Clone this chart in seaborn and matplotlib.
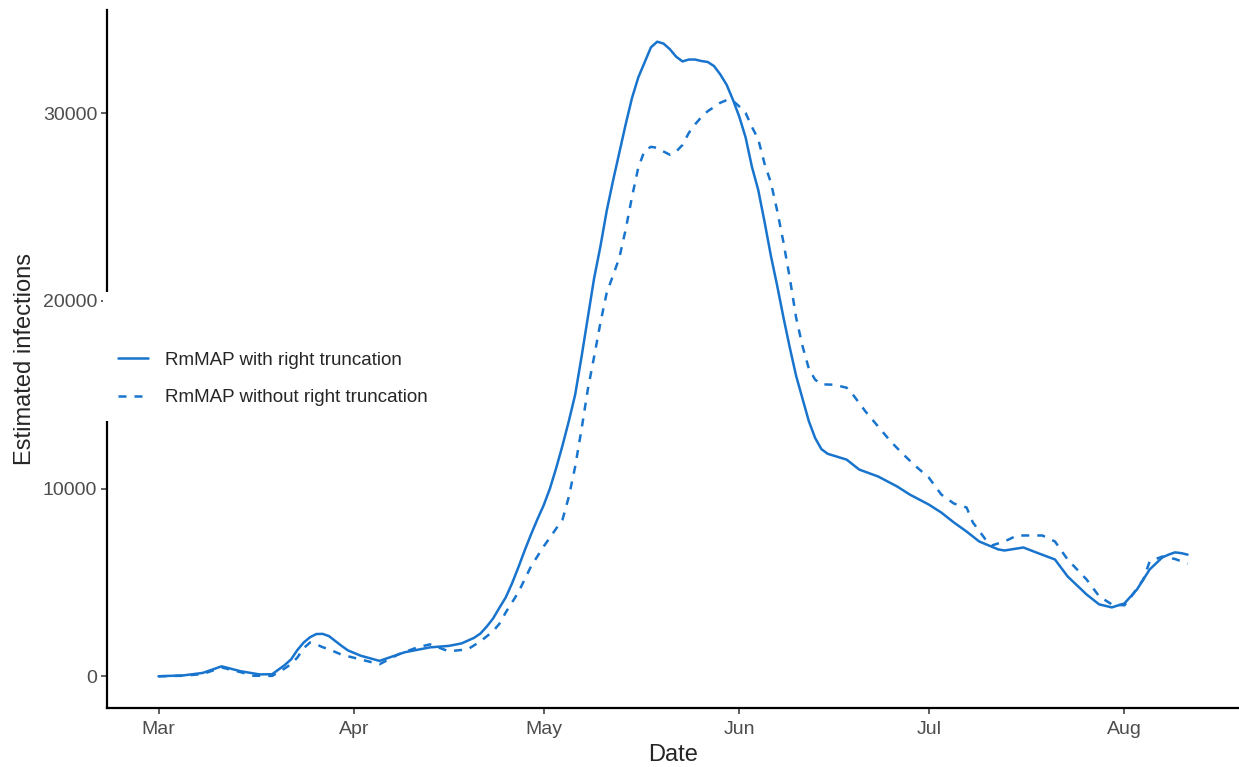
import numpy as np
import pandas as pd
import seaborn as sns
import matplotlib.pyplot as plt
import matplotlib.dates as mdates

# Estimated infections (year assumed 2020)
with_dates = ["03-01", "03-05", "03-08", "03-11", "03-14", "03-17", "03-19", "03-21",
              "03-22", "03-23", "03-24", "03-25", "03-26", "03-27", "03-28", "03-29",
              "03-30", "03-31", "04-02", "04-05", "04-09", "04-13", "04-16", "04-18",
              "04-20", "04-21", "04-22", "04-23", "04-24", "04-25", "04-26", "04-27",
              "04-28", "04-29", "04-30", "05-01",
              "05-02", "05-03", "05-04", "05-05", "05-06", "05-07", "05-08", "05-09",
              "05-10", "05-11", "05-12", "05-13", "05-14", "05-15", "05-16", "05-17",
              "05-18", "05-19", "05-20", "05-21", "05-22", "05-23", "05-24", "05-25",
              "05-26", "05-27", "05-28", "05-29", "05-30", "05-31", "06-01", "06-02",
              "06-03", "06-04", "06-05", "06-06", "06-07", "06-08", "06-09", "06-10",
              "06-11", "06-12", "06-13", "06-14", "06-15", "06-18", "06-20", "06-23",
              "06-26", "06-28", "07-01", "07-03", "07-05", "07-07", "07-09", "07-12",
              "07-13", "07-16", "07-18", "07-21", "07-23", "07-26", "07-28", "07-30",
              "08-01", "08-03", "08-05", "08-07", "08-08", "08-09", "08-10", "08-11"]
with_values = [0, 50, 180, 530, 270, 100, 110, 600,
               900, 1400, 1800, 2080, 2250, 2260, 2140, 1880,
               1620, 1380, 1100, 820, 1280, 1540, 1620, 1750,
               2050, 2280, 2650, 3080, 3650, 4200, 4950, 5800,
               6700, 7550, 8350, 9100,
               10000, 11100, 12300, 13600, 15000, 17000, 19100, 21200,
               22900, 24800, 26400, 27900, 29400, 30800, 31900, 32700,
               33500, 33800, 33700, 33400, 33000, 32750, 32850, 32850,
               32770, 32720, 32500, 32050, 31500, 30700, 29800, 28700,
               27130, 25900, 24200, 22400, 20800, 19100, 17500, 16000,
               14800, 13600, 12700, 12100, 11850, 11540, 11010, 10640,
               10110, 9680, 9150, 8720, 8190, 7710, 7180, 6760,
               6700, 6860, 6600, 6220, 5320, 4360, 3830, 3670,
               3880, 4630, 5690, 6330, 6480, 6600, 6560, 6480]

without_dates = ["03-01", "03-05", "03-08", "03-11", "03-14", "03-16", "03-19", "03-21",
                 "03-22", "03-23", "03-24", "03-25", "03-26", "03-27", "03-28", "03-30",
                 "04-02", "04-05", "04-08", "04-11",
                 "04-13", "04-16", "04-19", "04-21", "04-23", "04-24", "04-25", "04-27",
                 "04-28", "04-29", "05-01", "05-04", "05-05", "05-06", "05-07", "05-08",
                 "05-09", "05-10", "05-11", "05-12", "05-13", "05-14", "05-15", "05-16",
                 "05-17", "05-18", "05-19", "05-20", "05-21", "05-22", "05-23", "05-24",
                 "05-25", "05-26", "05-27", "05-28", "05-29", "05-30", "05-31", "06-01",
                 "06-02", "06-03", "06-04", "06-05", "06-06", "06-07", "06-08", "06-09",
                 "06-10", "06-11", "06-12", "06-13", "06-14", "06-16", "06-18", "06-19",
                 "06-21", "06-23", "06-25", "06-27", "06-29", "07-01", "07-03", "07-05",
                 "07-07", "07-08", "07-10", "07-11", "07-13", "07-15", "07-19", "07-21",
                 "07-23", "07-26", "07-28", "07-30", "08-01", "08-02", "08-04", "08-05",
                 "08-07", "08-09", "08-11"]
without_values = [0, 30, 120, 470, 220, 30, 20, 420,
                  650, 1000, 1500, 1800, 1700, 1550, 1440, 1150,
                  900, 640, 1170, 1540,
                  1700, 1330, 1440, 1860, 2400, 2800, 3400, 4470,
                  5160, 5850, 6910, 8350, 9570, 11170, 13140, 15270,
                  17020, 18830, 20430, 21350, 22300, 23800, 25530, 27100,
                  28000, 28200, 28150, 27950, 27780, 27950, 28300, 28940,
                  29400, 29790, 30100, 30320, 30550, 30690, 30650, 30350,
                  30000, 29260, 28600, 27300, 26300, 24800, 23100, 21200,
                  19100, 17600, 16400, 15800, 15550, 15530, 15370, 15000,
                  14100, 13300, 12500, 11810, 11170, 10590, 9680, 9200,
                  8990, 8190, 7290, 6970, 7180, 7500, 7500, 7180,
                  6220, 5160, 4260, 3830, 3780, 4200, 5160, 6120,
                  6380, 6250, 6000]

labels = ["RmMAP with right truncation", "RmMAP without right truncation"]

df = pd.concat([
    pd.DataFrame({"date": pd.to_datetime(["2020-" + d for d in with_dates]),
                  "infections": with_values, "method": labels[0]}),
    pd.DataFrame({"date": pd.to_datetime(["2020-" + d for d in without_dates]),
                  "infections": without_values, "method": labels[1]}),
], ignore_index=True)

sns.set_style("ticks")
plt.rcParams["font.family"] = ["Liberation Sans", "DejaVu Sans"]

blue = "#1874CD"
fig = plt.figure(figsize=(12.39, 7.67), dpi=100)
ax = fig.add_axes([0.0864, 0.0769, 0.9136, 0.9101])

sns.lineplot(data=df, x="date", y="infections", hue="method", style="method",
             palette=[blue, blue], dashes={labels[0]: "", labels[1]: (3.2, 3.2)},
             linewidth=1.8, ax=ax)

# ggplot-like 5% expansion
d0, d1 = df["date"].min(), df["date"].max()
pad = (d1 - d0) * 0.05
ax.set_xlim(d0 - pad, d1 + pad)
ymax = df["infections"].max()
ax.set_ylim(-0.05 * ymax, 1.05 * ymax)

ax.xaxis.set_major_locator(mdates.MonthLocator())
ax.xaxis.set_major_formatter(mdates.DateFormatter("%b"))
ax.set_yticks([0, 10000, 20000, 30000])
ax.set_yticklabels(["0", "10000", "20000", "30000"])

ax.tick_params(axis="both", length=4, width=1.1, color="#333333",
               labelcolor="#4D4D4D", labelsize=14)
ax.tick_params(axis="x", pad=5)
ax.tick_params(axis="y", pad=3)
for side in ["top", "right"]:
    ax.spines[side].set_visible(False)
for side in ["left", "bottom"]:
    ax.spines[side].set_linewidth(1.6)
    ax.spines[side].set_color("black")

ax.set_xlabel("Date", fontsize=17, labelpad=5)
ax.set_ylabel("Estimated infections", fontsize=17, labelpad=5)

leg = ax.legend(title=" ", loc="center left", bbox_to_anchor=(-0.0036, 0.5034),
                borderaxespad=0, frameon=True, facecolor="white", edgecolor="none",
                framealpha=1, fontsize=13.5, title_fontsize=18, handlelength=1.6,
                handletextpad=0.9, labelspacing=1.1, borderpad=0.8)
leg.set_zorder(10)

fig.savefig("out.png", dpi=100)
